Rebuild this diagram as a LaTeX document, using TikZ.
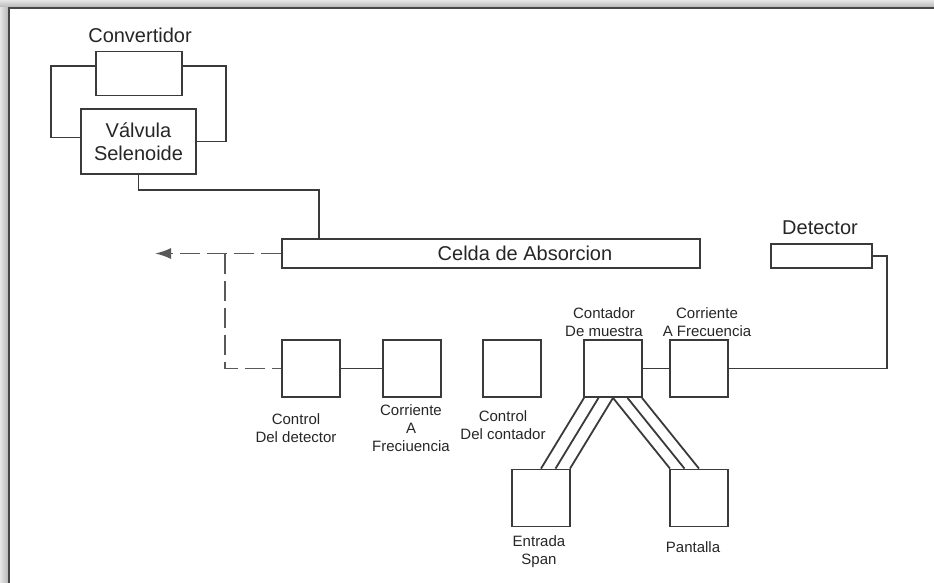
\documentclass[tikz,border=0pt]{standalone}
\usepackage{fontspec}
\setmainfont{Liberation Sans}
\usetikzlibrary{arrows.meta,calc}
\definecolor{linea}{HTML}{3A3A3A}
\definecolor{texto}{HTML}{262626}
\tikzset{
  box/.style={draw=linea, line width=1.8pt, fill=white, inner sep=0pt, minimum width=58pt, minimum height=57pt},
  bigtxt/.style={text=texto, font=\fontsize{20}{23}\selectfont, align=center, inner sep=0pt},
  smalltxt/.style={text=texto, font=\fontsize{15}{18}\selectfont, align=center, inner sep=0pt},
  dashline/.style={draw=gray!70!black, line width=1.8pt, dash pattern=on 20pt off 7pt}
}
\begin{document}
\begin{tikzpicture}[x=1pt, y=-1pt, line width=1.8pt, draw=linea]
                \useasboundingbox (0,0) rectangle (934,583);
                % marco
                \shade[top color=gray!20, bottom color=gray!60] (0,0) rectangle (934,8);
                \shade[left color=gray!20, right color=gray!60] (0,8) rectangle (9,583);
                \draw[gray!55!black, line width=2pt] (9,583) -- (9,8) -- (934,8);
                % cajas
                \node[box, minimum width=86pt, minimum height=44pt] (conv) at (139,73.5) {};
                \node[box, bigtxt, draw=linea, line width=1.8pt, minimum width=115pt, minimum height=65pt] (valv) at (138.5,141.5) {Válvula\\Selenoide};
                \node[box, minimum width=418pt, minimum height=29pt] (celda) at (491,253.5) {};
                \node[box, minimum width=101pt, minimum height=24pt] (det) at (821.5,256) {};
                \node[box] (cdet) at (311,368.5) {};
                \node[box] (cfa) at (412,368.5) {};
                \node[box] (ccont) at (512,368.5) {};
                \node[box] (cmue) at (613,368.5) {};
                \node[box] (cfre) at (699,368.5) {};
                \node[box] (span) at (541,498) {};
                \node[box] (pant) at (699,498) {};
                % textos
                \node[bigtxt] (lconv) at (140,35) {Convertidor};
                \node[bigtxt] (lcelda) at (525,253.5) {Celda de Absorcion};
                \node[bigtxt] (ldet) at (820,228) {Detector};
                \node[smalltxt] (lcmue) at (604,322) {Contador\\De muestra};
                \node[smalltxt] (lcfre) at (707,322) {Corriente\\A Frecuencia};
                \node[smalltxt] (lcdet) at (296,428) {Control\\Del detector};
                \node[smalltxt] (lcfa) at (411,428) {Corriente\\A\\Freciuencia};
                \node[smalltxt] (lccont) at (503,425) {Control\\Del contador};
                \node[smalltxt] (lspan) at (539,552) {Entrada\\Span};
                \node[smalltxt] (lpant) at (693,547) {Pantalla};
                % conexiones
                \draw (conv.170) -- ++(-44,0) |- (valv.176);
                \draw (conv.10) -- ++(43,0) |- (valv.east);
                \draw (valv.south) -- ++(0,15) -| ([xshift=38pt]celda.north west);
                \draw (cdet.east) -- (cfa.west);
                \draw (cmue.east) -- (cfre.west);
                \draw (cfre.east) -| ([xshift=14pt]det.east) -- (det.east);
                \foreach \d in {0,1,2} {
                  \draw ([xshift={-29pt+14.5pt*\d}]cmue.south) -- ([xshift={14.5pt*\d}]span.north);
                  \draw ([xshift={14.5pt*\d}]cmue.south) -- ([xshift={-29pt+14.5pt*\d}]pant.north);
                }
                % linea punteada
                \coordinate (tip) at (155,253.5);
                \coordinate (split) at (225,253.5);
                \draw[dashline, -{Latex[length=16pt, width=11pt]}] (celda.west) -- (tip);
                \draw[dashline] (split) |- (cdet.west);
\end{tikzpicture}
\end{document}
